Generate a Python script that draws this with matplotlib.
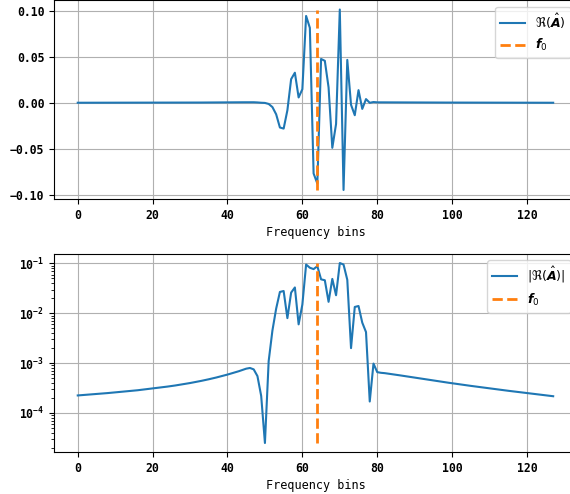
import numpy as np
from matplotlib import pyplot as plt

# frequency bins 0..127
bins = np.arange(128)

# left tail, bins 0..49 (small positive values, x1e-4)
left_tail = [2.25, 2.28, 2.31, 2.34, 2.37, 2.40, 2.44, 2.47, 2.51, 2.55,
             2.59, 2.63, 2.67, 2.72, 2.76, 2.81, 2.86, 2.92, 2.97, 3.03,
             3.10, 3.16, 3.23, 3.31, 3.39, 3.47, 3.56, 3.66, 3.76, 3.87,
             3.99, 4.12, 4.26, 4.41, 4.57, 4.75, 4.94, 5.15, 5.38, 5.63,
             5.90, 6.20, 6.52, 6.88, 7.30, 7.75, 8.00, 7.50, 5.50, 2.20]

# central part, bins 50..78
center = [0.000025, -0.0011, -0.0045, -0.0124, -0.0268, -0.028, -0.008,
          0.026, 0.033, 0.006, 0.015, 0.095, 0.082, -0.077, -0.088,
          0.048, 0.046, 0.017, -0.049, -0.023, 0.102, -0.095, 0.047,
          -0.002, -0.0134, 0.014, -0.0065, 0.0042, 0.00017]

# right tail, bins 79..127 (x1e-4)
right_tail = [9.8, 6.6, 6.4, 6.3, 6.15, 6.0, 5.85, 5.7, 5.55, 5.4,
              5.25, 5.1, 4.97, 4.84, 4.72, 4.60, 4.48, 4.37, 4.26, 4.15,
              4.05, 3.95, 3.85, 3.76, 3.67, 3.58, 3.50, 3.42, 3.34, 3.26,
              3.19, 3.12, 3.05, 2.98, 2.92, 2.85, 2.79, 2.73, 2.67, 2.62,
              2.56, 2.51, 2.46, 2.41, 2.36, 2.31, 2.26, 2.22, 2.17]

f0 = 64

re_A = np.concatenate([np.array(left_tail) * 1e-4, center, np.array(right_tail) * 1e-4])
abs_A = np.abs(re_A)

mono = "DejaVu Sans Mono"

fig = plt.figure(figsize=(5.7, 4.94), dpi=100)
ax1 = fig.add_axes([0.0947, 0.5972, 0.9175, 0.4018])
ax2 = fig.add_axes([0.0947, 0.085, 0.9175, 0.4008])

ax1.plot(bins, re_A, color="#1f77b4", linewidth=1.5, label=r"$\Re(\hat{\boldsymbol{A}})$")
ax1.vlines(f0, re_A.min(), re_A.max(), color="#ff7f0e", linestyle="--", linewidth=2,
           label=r"$\boldsymbol{f}_0$")
ax1.legend(loc="upper right", fontsize=9)

ax2.semilogy(bins, abs_A, color="#1f77b4", linewidth=1.5, label=r"$|\Re(\hat{\boldsymbol{A}})|$")
ax2.vlines(f0, abs_A.min(), abs_A.max(), color="#ff7f0e", linestyle="--", linewidth=2,
           label=r"$\boldsymbol{f}_0$")
ax2.legend(loc="upper right", fontsize=9)

for ax in (ax1, ax2):
    ax.grid(True)
    ax.set_xlabel("Frequency bins", family=mono, fontsize=8.5, labelpad=3)
    ax.tick_params(labelsize=8.3)
    for lbl in ax.get_xticklabels() + ax.get_yticklabels():
        lbl.set_family(mono)
        lbl.set_fontweight("bold")

plt.savefig("out.png", dpi=100)
